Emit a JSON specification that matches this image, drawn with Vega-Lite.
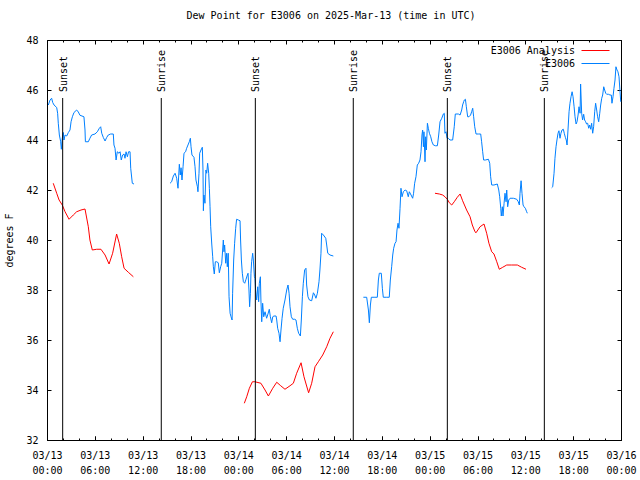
{
  "$schema": "https://vega.github.io/schema/vega-lite/v6.json",
  "width": 574,
  "height": 400,
  "autosize": "none",
  "padding": {"left": 47, "top": 40, "right": 19, "bottom": 40},
  "background": "white",
  "config": {
    "view": {"stroke": "black", "strokeWidth": 1},
    "font": "DejaVu Sans Mono",
    "axis": {"grid": false, "domain": false, "tickColor": "black", "labelColor": "black", "labelFont": "DejaVu Sans Mono", "labelFontSize": 10, "titleFont": "DejaVu Sans Mono", "titleFontSize": 10, "titleFontWeight": "normal", "titleColor": "black"}
  },
  "title": {"text": "Dew Point for E3006 on 2025-Mar-13 (time in UTC)", "font": "DejaVu Sans Mono", "fontSize": 10, "fontWeight": "normal", "color": "black", "offset": 14, "dx": -3},
  "datasets": {
    "ana": [
      {"t":"2025-03-13T00:47Z","v":42.27,"seg":1},{"t":"2025-03-13T01:13Z","v":41.87,"seg":1},{"t":"2025-03-13T01:31Z","v":41.6,"seg":1},{"t":"2025-03-13T01:55Z","v":41.4,"seg":1},{"t":"2025-03-13T02:16Z","v":41.13,"seg":1},{"t":"2025-03-13T02:46Z","v":40.83,"seg":1},{"t":"2025-03-13T03:18Z","v":41.0,"seg":1},{"t":"2025-03-13T03:43Z","v":41.13,"seg":1},{"t":"2025-03-13T04:16Z","v":41.2,"seg":1},{"t":"2025-03-13T04:46Z","v":41.24,"seg":1},{"t":"2025-03-13T05:11Z","v":40.53,"seg":1},{"t":"2025-03-13T05:23Z","v":40.0,"seg":1},{"t":"2025-03-13T05:41Z","v":39.6,"seg":1},{"t":"2025-03-13T06:14Z","v":39.63,"seg":1},{"t":"2025-03-13T06:46Z","v":39.63,"seg":1},{"t":"2025-03-13T07:17Z","v":39.4,"seg":1},{"t":"2025-03-13T07:47Z","v":39.04,"seg":1},{"t":"2025-03-13T08:14Z","v":39.47,"seg":1},{"t":"2025-03-13T08:44Z","v":40.24,"seg":1},{"t":"2025-03-13T09:04Z","v":39.87,"seg":1},{"t":"2025-03-13T09:22Z","v":39.33,"seg":1},{"t":"2025-03-13T09:40Z","v":38.87,"seg":1},{"t":"2025-03-13T10:12Z","v":38.71,"seg":1},{"t":"2025-03-13T10:50Z","v":38.53,"seg":1},
      {"t":"2025-03-14T00:45Z","v":33.47,"seg":2},{"t":"2025-03-14T01:03Z","v":33.73,"seg":2},{"t":"2025-03-14T01:23Z","v":34.07,"seg":2},{"t":"2025-03-14T01:46Z","v":34.33,"seg":2},{"t":"2025-03-14T02:05Z","v":34.33,"seg":2},{"t":"2025-03-14T02:50Z","v":34.27,"seg":2},{"t":"2025-03-14T03:21Z","v":34.0,"seg":2},{"t":"2025-03-14T03:46Z","v":33.76,"seg":2},{"t":"2025-03-14T04:19Z","v":34.07,"seg":2},{"t":"2025-03-14T04:49Z","v":34.31,"seg":2},{"t":"2025-03-14T05:19Z","v":34.17,"seg":2},{"t":"2025-03-14T05:51Z","v":34.03,"seg":2},{"t":"2025-03-14T06:29Z","v":34.17,"seg":2},{"t":"2025-03-14T06:54Z","v":34.27,"seg":2},{"t":"2025-03-14T07:19Z","v":34.67,"seg":2},{"t":"2025-03-14T07:52Z","v":35.09,"seg":2},{"t":"2025-03-14T08:14Z","v":34.53,"seg":2},{"t":"2025-03-14T08:34Z","v":34.16,"seg":2},{"t":"2025-03-14T08:49Z","v":33.89,"seg":2},{"t":"2025-03-14T09:12Z","v":34.27,"seg":2},{"t":"2025-03-14T09:37Z","v":34.93,"seg":2},{"t":"2025-03-14T10:02Z","v":35.13,"seg":2},{"t":"2025-03-14T10:35Z","v":35.4,"seg":2},{"t":"2025-03-14T11:05Z","v":35.73,"seg":2},{"t":"2025-03-14T11:30Z","v":36.07,"seg":2},{"t":"2025-03-14T11:55Z","v":36.33,"seg":2},
      {"t":"2025-03-15T00:40Z","v":41.87,"seg":3},{"t":"2025-03-15T01:13Z","v":41.84,"seg":3},{"t":"2025-03-15T01:38Z","v":41.8,"seg":3},{"t":"2025-03-15T01:55Z","v":41.73,"seg":3},{"t":"2025-03-15T02:13Z","v":41.63,"seg":3},{"t":"2025-03-15T02:28Z","v":41.49,"seg":3},{"t":"2025-03-15T02:46Z","v":41.4,"seg":3},{"t":"2025-03-15T03:05Z","v":41.53,"seg":3},{"t":"2025-03-15T03:28Z","v":41.71,"seg":3},{"t":"2025-03-15T03:49Z","v":41.84,"seg":3},{"t":"2025-03-15T04:08Z","v":41.57,"seg":3},{"t":"2025-03-15T04:38Z","v":41.2,"seg":3},{"t":"2025-03-15T05:04Z","v":40.93,"seg":3},{"t":"2025-03-15T05:21Z","v":40.6,"seg":3},{"t":"2025-03-15T05:41Z","v":40.33,"seg":3},{"t":"2025-03-15T05:49Z","v":40.29,"seg":3},{"t":"2025-03-15T06:19Z","v":40.53,"seg":3},{"t":"2025-03-15T06:49Z","v":40.64,"seg":3},{"t":"2025-03-15T07:09Z","v":40.27,"seg":3},{"t":"2025-03-15T07:26Z","v":39.87,"seg":3},{"t":"2025-03-15T07:47Z","v":39.53,"seg":3},{"t":"2025-03-15T08:04Z","v":39.44,"seg":3},{"t":"2025-03-15T08:25Z","v":39.13,"seg":3},{"t":"2025-03-15T08:44Z","v":38.83,"seg":3},{"t":"2025-03-15T09:10Z","v":38.91,"seg":3},{"t":"2025-03-15T09:40Z","v":39.0,"seg":3},{"t":"2025-03-15T10:17Z","v":39.0,"seg":3},{"t":"2025-03-15T11:00Z","v":39.0,"seg":3},{"t":"2025-03-15T11:32Z","v":38.91,"seg":3},{"t":"2025-03-15T12:05Z","v":38.83,"seg":3}
    ],
    "obs": [
      {"t":"2025-03-13T00:10Z","v":45.4,"seg":1},{"t":"2025-03-13T00:23Z","v":45.6,"seg":1},{"t":"2025-03-13T00:35Z","v":45.67,"seg":1},{"t":"2025-03-13T00:43Z","v":45.5,"seg":1},{"t":"2025-03-13T00:53Z","v":45.4,"seg":1},{"t":"2025-03-13T01:13Z","v":45.3,"seg":1},{"t":"2025-03-13T01:20Z","v":45.07,"seg":1},{"t":"2025-03-13T01:25Z","v":44.67,"seg":1},{"t":"2025-03-13T01:33Z","v":44.2,"seg":1},{"t":"2025-03-13T01:43Z","v":43.93,"seg":1},{"t":"2025-03-13T01:48Z","v":43.63,"seg":1},{"t":"2025-03-13T01:55Z","v":44.07,"seg":1},{"t":"2025-03-13T02:03Z","v":44.3,"seg":1},{"t":"2025-03-13T02:08Z","v":44.0,"seg":1},{"t":"2025-03-13T02:16Z","v":44.2,"seg":1},{"t":"2025-03-13T02:28Z","v":44.16,"seg":1},{"t":"2025-03-13T02:41Z","v":44.3,"seg":1},{"t":"2025-03-13T02:53Z","v":44.4,"seg":1},{"t":"2025-03-13T03:01Z","v":44.73,"seg":1},{"t":"2025-03-13T03:11Z","v":44.93,"seg":1},{"t":"2025-03-13T03:23Z","v":45.1,"seg":1},{"t":"2025-03-13T03:43Z","v":45.2,"seg":1},{"t":"2025-03-13T03:56Z","v":45.12,"seg":1},{"t":"2025-03-13T04:08Z","v":44.99,"seg":1},{"t":"2025-03-13T04:38Z","v":44.93,"seg":1},{"t":"2025-03-13T04:46Z","v":44.4,"seg":1},{"t":"2025-03-13T04:49Z","v":43.93,"seg":1},{"t":"2025-03-13T05:11Z","v":43.93,"seg":1},{"t":"2025-03-13T05:23Z","v":44.07,"seg":1},{"t":"2025-03-13T05:36Z","v":44.2,"seg":1},{"t":"2025-03-13T06:01Z","v":44.24,"seg":1},{"t":"2025-03-13T06:19Z","v":44.33,"seg":1},{"t":"2025-03-13T06:34Z","v":44.47,"seg":1},{"t":"2025-03-13T06:44Z","v":44.53,"seg":1},{"t":"2025-03-13T06:52Z","v":44.27,"seg":1},{"t":"2025-03-13T07:04Z","v":44.1,"seg":1},{"t":"2025-03-13T07:17Z","v":43.96,"seg":1},{"t":"2025-03-13T07:29Z","v":44.1,"seg":1},{"t":"2025-03-13T07:41Z","v":44.2,"seg":1},{"t":"2025-03-13T07:59Z","v":44.24,"seg":1},{"t":"2025-03-13T08:19Z","v":44.24,"seg":1},{"t":"2025-03-13T08:24Z","v":43.8,"seg":1},{"t":"2025-03-13T08:32Z","v":43.67,"seg":1},{"t":"2025-03-13T08:40Z","v":43.2,"seg":1},{"t":"2025-03-13T08:49Z","v":43.53,"seg":1},{"t":"2025-03-13T09:02Z","v":43.47,"seg":1},{"t":"2025-03-13T09:10Z","v":43.53,"seg":1},{"t":"2025-03-13T09:19Z","v":43.2,"seg":1},{"t":"2025-03-13T09:29Z","v":43.4,"seg":1},{"t":"2025-03-13T09:40Z","v":43.44,"seg":1},{"t":"2025-03-13T09:47Z","v":43.27,"seg":1},{"t":"2025-03-13T09:55Z","v":43.53,"seg":1},{"t":"2025-03-13T10:05Z","v":43.33,"seg":1},{"t":"2025-03-13T10:14Z","v":43.53,"seg":1},{"t":"2025-03-13T10:25Z","v":43.53,"seg":1},{"t":"2025-03-13T10:30Z","v":42.87,"seg":1},{"t":"2025-03-13T10:42Z","v":42.27,"seg":1},{"t":"2025-03-13T10:55Z","v":42.24,"seg":1},
      {"t":"2025-03-13T15:26Z","v":42.27,"seg":2},{"t":"2025-03-13T15:38Z","v":42.33,"seg":2},{"t":"2025-03-13T15:51Z","v":42.56,"seg":2},{"t":"2025-03-13T16:04Z","v":42.67,"seg":2},{"t":"2025-03-13T16:16Z","v":42.47,"seg":2},{"t":"2025-03-13T16:26Z","v":42.07,"seg":2},{"t":"2025-03-13T16:36Z","v":43.03,"seg":2},{"t":"2025-03-13T16:43Z","v":42.6,"seg":2},{"t":"2025-03-13T16:49Z","v":42.89,"seg":2},{"t":"2025-03-13T16:56Z","v":42.4,"seg":2},{"t":"2025-03-13T17:04Z","v":42.93,"seg":2},{"t":"2025-03-13T17:11Z","v":43.47,"seg":2},{"t":"2025-03-13T17:23Z","v":43.53,"seg":2},{"t":"2025-03-13T17:31Z","v":43.67,"seg":2},{"t":"2025-03-13T17:41Z","v":43.8,"seg":2},{"t":"2025-03-13T17:51Z","v":43.93,"seg":2},{"t":"2025-03-13T17:59Z","v":44.07,"seg":2},{"t":"2025-03-13T18:04Z","v":43.73,"seg":2},{"t":"2025-03-13T18:11Z","v":43.4,"seg":2},{"t":"2025-03-13T18:26Z","v":43.31,"seg":2},{"t":"2025-03-13T18:34Z","v":42.93,"seg":2},{"t":"2025-03-13T18:41Z","v":42.4,"seg":2},{"t":"2025-03-13T18:52Z","v":42.13,"seg":2},{"t":"2025-03-13T18:56Z","v":41.93,"seg":2},{"t":"2025-03-13T19:04Z","v":42.67,"seg":2},{"t":"2025-03-13T19:09Z","v":43.47,"seg":2},{"t":"2025-03-13T19:19Z","v":43.6,"seg":2},{"t":"2025-03-13T19:29Z","v":43.71,"seg":2},{"t":"2025-03-13T19:34Z","v":42.8,"seg":2},{"t":"2025-03-13T19:37Z","v":41.17,"seg":2},{"t":"2025-03-13T19:41Z","v":41.8,"seg":2},{"t":"2025-03-13T19:49Z","v":41.47,"seg":2},{"t":"2025-03-13T19:56Z","v":42.8,"seg":2},{"t":"2025-03-13T20:02Z","v":42.67,"seg":2},{"t":"2025-03-13T20:09Z","v":43.07,"seg":2},{"t":"2025-03-13T20:17Z","v":42.67,"seg":2},{"t":"2025-03-13T20:22Z","v":42.07,"seg":2},{"t":"2025-03-13T20:27Z","v":41.33,"seg":2},{"t":"2025-03-13T20:32Z","v":40.53,"seg":2},{"t":"2025-03-13T20:40Z","v":39.84,"seg":2},{"t":"2025-03-13T20:47Z","v":39.33,"seg":2},{"t":"2025-03-13T20:52Z","v":38.93,"seg":2},{"t":"2025-03-13T20:59Z","v":38.64,"seg":2},{"t":"2025-03-13T21:07Z","v":39.13,"seg":2},{"t":"2025-03-13T21:17Z","v":39.13,"seg":2},{"t":"2025-03-13T21:29Z","v":39.09,"seg":2},{"t":"2025-03-13T21:37Z","v":38.69,"seg":2},{"t":"2025-03-13T21:47Z","v":38.93,"seg":2},{"t":"2025-03-13T21:55Z","v":39.07,"seg":2},{"t":"2025-03-13T22:02Z","v":39.6,"seg":2},{"t":"2025-03-13T22:07Z","v":40.0,"seg":2},{"t":"2025-03-13T22:12Z","v":39.53,"seg":2},{"t":"2025-03-13T22:17Z","v":39.8,"seg":2},{"t":"2025-03-13T22:25Z","v":39.07,"seg":2},{"t":"2025-03-13T22:32Z","v":39.47,"seg":2},{"t":"2025-03-13T22:37Z","v":38.93,"seg":2},{"t":"2025-03-13T22:44Z","v":39.47,"seg":2},{"t":"2025-03-13T22:50Z","v":37.73,"seg":2},{"t":"2025-03-13T22:58Z","v":37.07,"seg":2},{"t":"2025-03-13T23:05Z","v":36.93,"seg":2},{"t":"2025-03-13T23:13Z","v":36.8,"seg":2},{"t":"2025-03-13T23:17Z","v":37.87,"seg":2},{"t":"2025-03-13T23:25Z","v":39.2,"seg":2},{"t":"2025-03-13T23:32Z","v":39.87,"seg":2},{"t":"2025-03-13T23:40Z","v":40.47,"seg":2},{"t":"2025-03-13T23:47Z","v":40.83,"seg":2},{"t":"2025-03-14T00:00Z","v":40.8,"seg":2},{"t":"2025-03-14T00:13Z","v":40.77,"seg":2},{"t":"2025-03-14T00:17Z","v":40.0,"seg":2},{"t":"2025-03-14T00:23Z","v":39.2,"seg":2},{"t":"2025-03-14T00:30Z","v":38.67,"seg":2},{"t":"2025-03-14T00:38Z","v":38.33,"seg":2},{"t":"2025-03-14T00:48Z","v":38.27,"seg":2},{"t":"2025-03-14T00:58Z","v":38.43,"seg":2},{"t":"2025-03-14T01:08Z","v":38.6,"seg":2},{"t":"2025-03-14T01:13Z","v":38.67,"seg":2},{"t":"2025-03-14T01:20Z","v":38.0,"seg":2},{"t":"2025-03-14T01:25Z","v":37.33,"seg":2},{"t":"2025-03-14T01:31Z","v":37.87,"seg":2},{"t":"2025-03-14T01:35Z","v":38.67,"seg":2},{"t":"2025-03-14T01:40Z","v":39.13,"seg":2},{"t":"2025-03-14T01:48Z","v":39.47,"seg":2},{"t":"2025-03-14T01:53Z","v":39.2,"seg":2},{"t":"2025-03-14T02:01Z","v":38.53,"seg":2},{"t":"2025-03-14T02:05Z","v":38.47,"seg":2},{"t":"2025-03-14T02:10Z","v":38.0,"seg":2},{"t":"2025-03-14T02:18Z","v":37.6,"seg":2},{"t":"2025-03-14T02:26Z","v":38.13,"seg":2},{"t":"2025-03-14T02:33Z","v":37.53,"seg":2},{"t":"2025-03-14T02:38Z","v":38.27,"seg":2},{"t":"2025-03-14T02:46Z","v":38.53,"seg":2},{"t":"2025-03-14T02:50Z","v":37.6,"seg":2},{"t":"2025-03-14T02:56Z","v":36.73,"seg":2},{"t":"2025-03-14T03:03Z","v":37.47,"seg":2},{"t":"2025-03-14T03:11Z","v":36.93,"seg":2},{"t":"2025-03-14T03:21Z","v":37.13,"seg":2},{"t":"2025-03-14T03:33Z","v":36.87,"seg":2},{"t":"2025-03-14T03:43Z","v":37.04,"seg":2},{"t":"2025-03-14T03:53Z","v":37.23,"seg":2},{"t":"2025-03-14T04:01Z","v":36.93,"seg":2},{"t":"2025-03-14T04:11Z","v":36.69,"seg":2},{"t":"2025-03-14T04:19Z","v":36.93,"seg":2},{"t":"2025-03-14T04:28Z","v":36.96,"seg":2},{"t":"2025-03-14T04:44Z","v":36.96,"seg":2},{"t":"2025-03-14T04:49Z","v":36.8,"seg":2},{"t":"2025-03-14T04:56Z","v":36.47,"seg":2},{"t":"2025-03-14T05:06Z","v":36.27,"seg":2},{"t":"2025-03-14T05:14Z","v":35.93,"seg":2},{"t":"2025-03-14T05:21Z","v":36.4,"seg":2},{"t":"2025-03-14T05:29Z","v":36.87,"seg":2},{"t":"2025-03-14T05:38Z","v":37.27,"seg":2},{"t":"2025-03-14T05:51Z","v":37.6,"seg":2},{"t":"2025-03-14T06:04Z","v":38.0,"seg":2},{"t":"2025-03-14T06:14Z","v":38.2,"seg":2},{"t":"2025-03-14T06:22Z","v":37.87,"seg":2},{"t":"2025-03-14T06:29Z","v":37.33,"seg":2},{"t":"2025-03-14T06:39Z","v":36.93,"seg":2},{"t":"2025-03-14T06:49Z","v":36.83,"seg":2},{"t":"2025-03-14T07:04Z","v":36.83,"seg":2},{"t":"2025-03-14T07:14Z","v":36.8,"seg":2},{"t":"2025-03-14T07:24Z","v":36.47,"seg":2},{"t":"2025-03-14T07:34Z","v":36.27,"seg":2},{"t":"2025-03-14T07:47Z","v":36.16,"seg":2},{"t":"2025-03-14T07:54Z","v":36.8,"seg":2},{"t":"2025-03-14T08:02Z","v":37.73,"seg":2},{"t":"2025-03-14T08:09Z","v":38.27,"seg":2},{"t":"2025-03-14T08:19Z","v":38.8,"seg":2},{"t":"2025-03-14T08:29Z","v":38.87,"seg":2},{"t":"2025-03-14T08:34Z","v":38.2,"seg":2},{"t":"2025-03-14T08:44Z","v":37.73,"seg":2},{"t":"2025-03-14T08:55Z","v":37.6,"seg":2},{"t":"2025-03-14T09:12Z","v":37.57,"seg":2},{"t":"2025-03-14T09:25Z","v":37.89,"seg":2},{"t":"2025-03-14T09:35Z","v":37.8,"seg":2},{"t":"2025-03-14T09:44Z","v":37.67,"seg":2},{"t":"2025-03-14T09:55Z","v":37.87,"seg":2},{"t":"2025-03-14T10:07Z","v":38.33,"seg":2},{"t":"2025-03-14T10:14Z","v":38.8,"seg":2},{"t":"2025-03-14T10:22Z","v":39.47,"seg":2},{"t":"2025-03-14T10:27Z","v":40.27,"seg":2},{"t":"2025-03-14T10:40Z","v":40.2,"seg":2},{"t":"2025-03-14T10:58Z","v":40.07,"seg":2},{"t":"2025-03-14T11:05Z","v":39.8,"seg":2},{"t":"2025-03-14T11:13Z","v":39.47,"seg":2},{"t":"2025-03-14T11:30Z","v":39.4,"seg":2},{"t":"2025-03-14T11:55Z","v":39.36,"seg":2},
      {"t":"2025-03-14T15:41Z","v":37.71,"seg":3},{"t":"2025-03-14T16:06Z","v":37.71,"seg":3},{"t":"2025-03-14T16:19Z","v":37.2,"seg":3},{"t":"2025-03-14T16:26Z","v":36.69,"seg":3},{"t":"2025-03-14T16:34Z","v":37.4,"seg":3},{"t":"2025-03-14T16:41Z","v":37.71,"seg":3},{"t":"2025-03-14T17:08Z","v":37.71,"seg":3},{"t":"2025-03-14T17:26Z","v":37.71,"seg":3},{"t":"2025-03-14T17:34Z","v":38.4,"seg":3},{"t":"2025-03-14T17:41Z","v":38.67,"seg":3},{"t":"2025-03-14T17:56Z","v":38.67,"seg":3},{"t":"2025-03-14T18:04Z","v":38.07,"seg":3},{"t":"2025-03-14T18:11Z","v":37.71,"seg":3},{"t":"2025-03-14T18:37Z","v":37.71,"seg":3},{"t":"2025-03-14T18:56Z","v":37.71,"seg":3},{"t":"2025-03-14T19:04Z","v":38.4,"seg":3},{"t":"2025-03-14T19:14Z","v":38.93,"seg":3},{"t":"2025-03-14T19:22Z","v":39.4,"seg":3},{"t":"2025-03-14T19:29Z","v":39.67,"seg":3},{"t":"2025-03-14T19:39Z","v":39.87,"seg":3},{"t":"2025-03-14T19:47Z","v":39.93,"seg":3},{"t":"2025-03-14T19:54Z","v":40.4,"seg":3},{"t":"2025-03-14T20:02Z","v":40.67,"seg":3},{"t":"2025-03-14T20:09Z","v":40.47,"seg":3},{"t":"2025-03-14T20:17Z","v":41.27,"seg":3},{"t":"2025-03-14T20:24Z","v":42.07,"seg":3},{"t":"2025-03-14T20:32Z","v":41.73,"seg":3},{"t":"2025-03-14T20:42Z","v":41.93,"seg":3},{"t":"2025-03-14T20:55Z","v":42.0,"seg":3},{"t":"2025-03-14T21:07Z","v":41.97,"seg":3},{"t":"2025-03-14T21:19Z","v":41.73,"seg":3},{"t":"2025-03-14T21:27Z","v":41.93,"seg":3},{"t":"2025-03-14T21:40Z","v":41.8,"seg":3},{"t":"2025-03-14T21:52Z","v":41.67,"seg":3},{"t":"2025-03-14T21:59Z","v":41.87,"seg":3},{"t":"2025-03-14T22:07Z","v":42.27,"seg":3},{"t":"2025-03-14T22:17Z","v":42.53,"seg":3},{"t":"2025-03-14T22:27Z","v":43.0,"seg":3},{"t":"2025-03-14T22:37Z","v":43.07,"seg":3},{"t":"2025-03-14T22:47Z","v":43.2,"seg":3},{"t":"2025-03-14T22:55Z","v":43.53,"seg":3},{"t":"2025-03-14T23:02Z","v":44.2,"seg":3},{"t":"2025-03-14T23:07Z","v":44.4,"seg":3},{"t":"2025-03-14T23:13Z","v":43.73,"seg":3},{"t":"2025-03-14T23:17Z","v":44.33,"seg":3},{"t":"2025-03-14T23:25Z","v":43.13,"seg":3},{"t":"2025-03-14T23:30Z","v":44.13,"seg":3},{"t":"2025-03-14T23:35Z","v":43.6,"seg":3},{"t":"2025-03-14T23:43Z","v":44.67,"seg":3},{"t":"2025-03-14T23:50Z","v":44.47,"seg":3},{"t":"2025-03-14T23:58Z","v":44.27,"seg":3},{"t":"2025-03-15T00:08Z","v":44.13,"seg":3},{"t":"2025-03-15T00:17Z","v":43.93,"seg":3},{"t":"2025-03-15T00:28Z","v":43.8,"seg":3},{"t":"2025-03-15T00:43Z","v":43.77,"seg":3},{"t":"2025-03-15T00:58Z","v":43.77,"seg":3},{"t":"2025-03-15T01:08Z","v":44.2,"seg":3},{"t":"2025-03-15T01:18Z","v":44.73,"seg":3},{"t":"2025-03-15T01:31Z","v":44.87,"seg":3},{"t":"2025-03-15T01:43Z","v":45.04,"seg":3},{"t":"2025-03-15T01:50Z","v":45.07,"seg":3},{"t":"2025-03-15T01:55Z","v":44.27,"seg":3},{"t":"2025-03-15T02:03Z","v":44.33,"seg":3},{"t":"2025-03-15T02:11Z","v":44.07,"seg":3},{"t":"2025-03-15T02:20Z","v":44.07,"seg":3},{"t":"2025-03-15T02:33Z","v":44.0,"seg":3},{"t":"2025-03-15T02:53Z","v":44.0,"seg":3},{"t":"2025-03-15T03:05Z","v":44.53,"seg":3},{"t":"2025-03-15T03:13Z","v":45.04,"seg":3},{"t":"2025-03-15T03:36Z","v":45.04,"seg":3},{"t":"2025-03-15T03:49Z","v":45.0,"seg":3},{"t":"2025-03-15T04:01Z","v":45.2,"seg":3},{"t":"2025-03-15T04:08Z","v":45.4,"seg":3},{"t":"2025-03-15T04:16Z","v":45.53,"seg":3},{"t":"2025-03-15T04:21Z","v":45.6,"seg":3},{"t":"2025-03-15T04:29Z","v":45.63,"seg":3},{"t":"2025-03-15T04:36Z","v":45.33,"seg":3},{"t":"2025-03-15T04:46Z","v":44.93,"seg":3},{"t":"2025-03-15T04:56Z","v":44.93,"seg":3},{"t":"2025-03-15T05:08Z","v":45.0,"seg":3},{"t":"2025-03-15T05:16Z","v":45.13,"seg":3},{"t":"2025-03-15T05:24Z","v":45.27,"seg":3},{"t":"2025-03-15T05:31Z","v":44.93,"seg":3},{"t":"2025-03-15T05:39Z","v":44.53,"seg":3},{"t":"2025-03-15T05:49Z","v":44.24,"seg":3},{"t":"2025-03-15T06:07Z","v":44.24,"seg":3},{"t":"2025-03-15T06:24Z","v":44.24,"seg":3},{"t":"2025-03-15T06:31Z","v":43.93,"seg":3},{"t":"2025-03-15T06:39Z","v":43.53,"seg":3},{"t":"2025-03-15T06:46Z","v":43.2,"seg":3},{"t":"2025-03-15T06:59Z","v":43.2,"seg":3},{"t":"2025-03-15T07:22Z","v":43.23,"seg":3},{"t":"2025-03-15T07:32Z","v":43.07,"seg":3},{"t":"2025-03-15T07:39Z","v":42.53,"seg":3},{"t":"2025-03-15T07:47Z","v":42.2,"seg":3},{"t":"2025-03-15T08:04Z","v":42.2,"seg":3},{"t":"2025-03-15T08:29Z","v":42.24,"seg":3},{"t":"2025-03-15T08:40Z","v":42.0,"seg":3},{"t":"2025-03-15T08:47Z","v":41.73,"seg":3},{"t":"2025-03-15T08:55Z","v":41.27,"seg":3},{"t":"2025-03-15T08:59Z","v":40.96,"seg":3},{"t":"2025-03-15T09:07Z","v":41.33,"seg":3},{"t":"2025-03-15T09:12Z","v":40.96,"seg":3},{"t":"2025-03-15T09:20Z","v":41.47,"seg":3},{"t":"2025-03-15T09:27Z","v":41.87,"seg":3},{"t":"2025-03-15T09:35Z","v":41.53,"seg":3},{"t":"2025-03-15T09:40Z","v":42.0,"seg":3},{"t":"2025-03-15T09:47Z","v":41.33,"seg":3},{"t":"2025-03-15T09:55Z","v":41.6,"seg":3},{"t":"2025-03-15T10:05Z","v":41.67,"seg":3},{"t":"2025-03-15T10:30Z","v":41.67,"seg":3},{"t":"2025-03-15T10:55Z","v":41.63,"seg":3},{"t":"2025-03-15T11:07Z","v":41.53,"seg":3},{"t":"2025-03-15T11:15Z","v":41.4,"seg":3},{"t":"2025-03-15T11:20Z","v":41.87,"seg":3},{"t":"2025-03-15T11:28Z","v":42.37,"seg":3},{"t":"2025-03-15T11:35Z","v":41.87,"seg":3},{"t":"2025-03-15T11:43Z","v":41.4,"seg":3},{"t":"2025-03-15T11:50Z","v":41.33,"seg":3},{"t":"2025-03-15T12:00Z","v":41.27,"seg":3},{"t":"2025-03-15T12:10Z","v":41.13,"seg":3},{"t":"2025-03-15T12:15Z","v":41.07,"seg":3},
      {"t":"2025-03-15T15:18Z","v":42.09,"seg":4},{"t":"2025-03-15T15:26Z","v":42.13,"seg":4},{"t":"2025-03-15T15:36Z","v":42.67,"seg":4},{"t":"2025-03-15T15:43Z","v":43.27,"seg":4},{"t":"2025-03-15T15:51Z","v":43.73,"seg":4},{"t":"2025-03-15T15:58Z","v":44.0,"seg":4},{"t":"2025-03-15T16:06Z","v":44.27,"seg":4},{"t":"2025-03-15T16:13Z","v":44.37,"seg":4},{"t":"2025-03-15T16:21Z","v":44.07,"seg":4},{"t":"2025-03-15T16:28Z","v":44.27,"seg":4},{"t":"2025-03-15T16:36Z","v":44.4,"seg":4},{"t":"2025-03-15T16:46Z","v":44.43,"seg":4},{"t":"2025-03-15T16:53Z","v":44.27,"seg":4},{"t":"2025-03-15T17:01Z","v":44.11,"seg":4},{"t":"2025-03-15T17:08Z","v":44.0,"seg":4},{"t":"2025-03-15T17:14Z","v":43.8,"seg":4},{"t":"2025-03-15T17:21Z","v":44.4,"seg":4},{"t":"2025-03-15T17:29Z","v":45.13,"seg":4},{"t":"2025-03-15T17:36Z","v":45.47,"seg":4},{"t":"2025-03-15T17:44Z","v":45.73,"seg":4},{"t":"2025-03-15T17:52Z","v":45.93,"seg":4},{"t":"2025-03-15T17:59Z","v":45.73,"seg":4},{"t":"2025-03-15T18:07Z","v":45.33,"seg":4},{"t":"2025-03-15T18:14Z","v":44.93,"seg":4},{"t":"2025-03-15T18:22Z","v":44.64,"seg":4},{"t":"2025-03-15T18:29Z","v":44.73,"seg":4},{"t":"2025-03-15T18:37Z","v":45.0,"seg":4},{"t":"2025-03-15T18:44Z","v":45.33,"seg":4},{"t":"2025-03-15T18:52Z","v":45.07,"seg":4},{"t":"2025-03-15T18:56Z","v":46.24,"seg":4},{"t":"2025-03-15T19:04Z","v":45.07,"seg":4},{"t":"2025-03-15T19:11Z","v":44.8,"seg":4},{"t":"2025-03-15T19:19Z","v":45.03,"seg":4},{"t":"2025-03-15T19:26Z","v":44.8,"seg":4},{"t":"2025-03-15T19:34Z","v":44.73,"seg":4},{"t":"2025-03-15T19:41Z","v":44.64,"seg":4},{"t":"2025-03-15T19:49Z","v":44.67,"seg":4},{"t":"2025-03-15T19:57Z","v":44.47,"seg":4},{"t":"2025-03-15T20:04Z","v":44.6,"seg":4},{"t":"2025-03-15T20:12Z","v":44.43,"seg":4},{"t":"2025-03-15T20:19Z","v":44.67,"seg":4},{"t":"2025-03-15T20:27Z","v":44.27,"seg":4},{"t":"2025-03-15T20:34Z","v":44.53,"seg":4},{"t":"2025-03-15T20:42Z","v":45.13,"seg":4},{"t":"2025-03-15T20:49Z","v":45.47,"seg":4},{"t":"2025-03-15T20:57Z","v":45.2,"seg":4},{"t":"2025-03-15T21:04Z","v":44.93,"seg":4},{"t":"2025-03-15T21:12Z","v":44.73,"seg":4},{"t":"2025-03-15T21:20Z","v":45.07,"seg":4},{"t":"2025-03-15T21:27Z","v":45.4,"seg":4},{"t":"2025-03-15T21:35Z","v":45.67,"seg":4},{"t":"2025-03-15T21:42Z","v":45.8,"seg":4},{"t":"2025-03-15T21:50Z","v":46.13,"seg":4},{"t":"2025-03-15T21:57Z","v":46.0,"seg":4},{"t":"2025-03-15T22:05Z","v":45.87,"seg":4},{"t":"2025-03-15T22:12Z","v":45.83,"seg":4},{"t":"2025-03-15T22:25Z","v":45.83,"seg":4},{"t":"2025-03-15T22:37Z","v":45.8,"seg":4},{"t":"2025-03-15T22:47Z","v":45.8,"seg":4},{"t":"2025-03-15T22:52Z","v":45.47,"seg":4},{"t":"2025-03-15T23:00Z","v":45.73,"seg":4},{"t":"2025-03-15T23:07Z","v":46.07,"seg":4},{"t":"2025-03-15T23:15Z","v":46.4,"seg":4},{"t":"2025-03-15T23:22Z","v":46.93,"seg":4},{"t":"2025-03-15T23:30Z","v":46.8,"seg":4},{"t":"2025-03-15T23:37Z","v":46.73,"seg":4},{"t":"2025-03-15T23:45Z","v":46.53,"seg":4},{"t":"2025-03-15T23:52Z","v":46.0,"seg":4},{"t":"2025-03-15T23:58Z","v":45.53,"seg":4}
    ],
    "sun": [
      {"t":"2025-03-13T01:58Z","label":"Sunset"},
      {"t":"2025-03-13T14:20Z","label":"Sunrise"},
      {"t":"2025-03-14T02:08Z","label":"Sunset"},
      {"t":"2025-03-14T14:25Z","label":"Sunrise"},
      {"t":"2025-03-15T02:13Z","label":"Sunset"},
      {"t":"2025-03-15T14:23Z","label":"Sunrise"}
    ]
  },
  "resolve": {"axis": {"x": "independent", "y": "independent"}},
  "layer": [
    {
      "data": {"name": "ana"},
      "mark": {"type": "line", "strokeWidth": 1},
      "encoding": {
        "x": {"field": "t", "type": "temporal",
              "scale": {"type": "utc", "domain": [1741824000000, 1742083200000], "nice": false},
              "axis": {"orient": "bottom", "title": null, "values": [1741824000000, 1741845600000, 1741867200000, 1741888800000, 1741910400000, 1741932000000, 1741953600000, 1741975200000, 1741996800000, 1742018400000, 1742040000000, 1742061600000, 1742083200000], "format": "%m/%d", "tickSize": -4, "labelPadding": 14, "labelOverlap": false, "labelFlush": false}},
        "y": {"field": "v", "type": "quantitative",
              "scale": {"domain": [32, 48], "nice": false, "zero": false},
              "axis": {"orient": "left", "title": "degrees F", "values": [32, 34, 36, 38, 40, 42, 44, 46, 48], "tickSize": -4, "labelPadding": 13, "titlePadding": 11}},
        "color": {"datum": "E3006 Analysis", "type": "nominal",
                  "scale": {"domain": ["E3006 Analysis", "E3006"], "range": ["#ff0000", "#0080ff"]},
                  "legend": {"orient": "none", "legendX": 543, "legendY": 5, "title": null, "symbolType": "M-2.8,0H2.8", "symbolSize": 100, "symbolStrokeWidth": 1, "labelFont": "DejaVu Sans Mono", "labelFontSize": 10, "labelColor": "black", "labelAlign": "right", "labelOffset": -26, "rowPadding": 2}},
        "detail": {"field": "seg", "type": "nominal"}
      }
    },
    {
      "data": {"name": "obs"},
      "mark": {"type": "line", "strokeWidth": 1},
      "encoding": {
        "x": {"field": "t", "type": "temporal",
              "axis": {"orient": "bottom", "title": null, "values": [1741824000000, 1741845600000, 1741867200000, 1741888800000, 1741910400000, 1741932000000, 1741953600000, 1741975200000, 1741996800000, 1742018400000, 1742040000000, 1742061600000, 1742083200000], "format": "%H:%M", "tickSize": -4, "labelPadding": 29, "labelOverlap": false, "labelFlush": false}},
        "y": {"field": "v", "type": "quantitative", "axis": null},
        "color": {"datum": "E3006", "type": "nominal"},
        "detail": {"field": "seg", "type": "nominal"}
      }
    },
    {
      "data": {"name": "sun"},
      "transform": [{"filter": "datum.label === 'Sunset'"}],
      "mark": {"type": "rule", "color": "black", "strokeWidth": 1},
      "encoding": {
        "x": {"field": "t", "type": "temporal",
              "axis": {"orient": "top", "title": null, "values": [1741824000000, 1741845600000, 1741867200000, 1741888800000, 1741910400000, 1741932000000, 1741953600000, 1741975200000, 1741996800000, 1742018400000, 1742040000000, 1742061600000, 1742083200000], "tickSize": -4, "labels": false}},
        "y": {"datum": 45.68, "type": "quantitative",
              "axis": {"orient": "right", "title": null, "values": [32, 34, 36, 38, 40, 42, 44, 46, 48], "tickSize": -4, "labels": false}},
        "y2": {"datum": 32}
      }
    },
    {
      "data": {"name": "sun"},
      "transform": [{"filter": "datum.label === 'Sunrise'"}],
      "mark": {"type": "rule", "color": "black", "strokeWidth": 1},
      "encoding": {
        "x": {"field": "t", "type": "temporal",
              "axis": {"orient": "bottom", "title": null, "values": [1741824000000, 1741831200000, 1741838400000, 1741845600000, 1741852800000, 1741860000000, 1741867200000, 1741874400000, 1741881600000, 1741888800000, 1741896000000, 1741903200000, 1741910400000, 1741917600000, 1741924800000, 1741932000000, 1741939200000, 1741946400000, 1741953600000, 1741960800000, 1741968000000, 1741975200000, 1741982400000, 1741989600000, 1741996800000, 1742004000000, 1742011200000, 1742018400000, 1742025600000, 1742032800000, 1742040000000, 1742047200000, 1742054400000, 1742061600000, 1742068800000, 1742076000000, 1742083200000], "tickSize": -2, "labels": false}},
        "y": {"datum": 45.68, "type": "quantitative", "axis": null},
        "y2": {"datum": 32}
      }
    },
    {
      "data": {"name": "sun"},
      "mark": {"type": "text", "angle": 270, "align": "left", "baseline": "middle", "font": "DejaVu Sans Mono", "fontSize": 10, "color": "black", "dy": 1},
      "encoding": {
        "x": {"field": "t", "type": "temporal",
              "axis": {"orient": "top", "title": null, "values": [1741824000000, 1741831200000, 1741838400000, 1741845600000, 1741852800000, 1741860000000, 1741867200000, 1741874400000, 1741881600000, 1741888800000, 1741896000000, 1741903200000, 1741910400000, 1741917600000, 1741924800000, 1741932000000, 1741939200000, 1741946400000, 1741953600000, 1741960800000, 1741968000000, 1741975200000, 1741982400000, 1741989600000, 1741996800000, 1742004000000, 1742011200000, 1742018400000, 1742025600000, 1742032800000, 1742040000000, 1742047200000, 1742054400000, 1742061600000, 1742068800000, 1742076000000, 1742083200000], "tickSize": -2, "labels": false}},
        "y": {"datum": 45.92, "type": "quantitative", "axis": null},
        "text": {"field": "label"}
      }
    }
  ]
}
